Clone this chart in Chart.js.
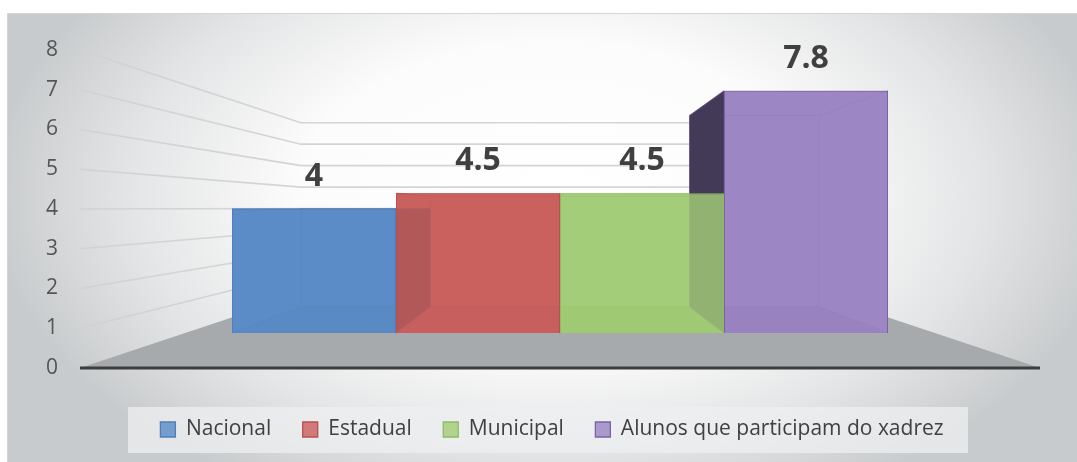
<!DOCTYPE html>
<html><head><meta charset="utf-8">
<script src="https://cdn.jsdelivr.net/npm/chart.js@4/dist/chart.umd.min.js"></script>
<style>html,body{margin:0;padding:0;background:#fff;overflow:hidden}</style>
</head><body>
<canvas id="c" width="1077" height="462"></canvas>
<script>
// ---- data ----
const categories = [''];
const seriesNames = ['Nacional', 'Estadual', 'Municipal', 'Alunos que participam do xadrez'];
const nacional = [4];
const estadual = [4.5];
const municipal = [4.5];
const alunosXadrez = [7.8];
const valueLabels = ['4', '4.5', '4.5', '7.8'];
const yTicks = [0, 1, 2, 3, 4, 5, 6, 7, 8];

// ---- styles ----
const styles = [
  {rgb:[91,140,199], bottom:'#4f7fb8', side:'#4a3040', edge:'rgba(55,95,155,0.55)', border:'#4f7fbb'},
  {rgb:[202,98,95], bottom:'#b35452', side:'#8a3b39', edge:'rgba(150,55,52,0.55)', border:'#b9504e'},
  {rgb:[163,205,120], bottom:'#8fb865', side:'#6c8e47', edge:'rgba(105,145,65,0.55)', border:'#8ebb62'},
  {rgb:[156,134,195], bottom:'#8670ad', side:'#433a58', edge:'rgba(105,80,145,0.55)', border:'#7a63a6'}
];
const rgba = (c, a) => `rgba(${c[0]},${c[1]},${c[2]},${a})`;
const SF = 0.781, SB = 0.617, SW = 0.54;

function geom(chart) {
  const a = chart.chartArea;
  const vx = (a.left + a.right) / 2;
  const vy = a.bottom - 0.503 * (a.bottom - a.top);
  const P = (x, y, s) => [vx + s * (x - vx), vy + s * (y - vy)];
  return {a, vx, vy, P};
}
function poly(ctx, pts, fill, stroke) {
  ctx.beginPath();
  ctx.moveTo(pts[0][0], pts[0][1]);
  for (let k = 1; k < pts.length; k++) ctx.lineTo(pts[k][0], pts[k][1]);
  ctx.closePath();
  if (fill) { ctx.fillStyle = fill; ctx.fill(); }
  if (stroke) { ctx.strokeStyle = stroke; ctx.stroke(); }
}

const plugin3d = {
  id: 'plugin3d',
  beforeDraw(chart) {
    const ctx = chart.ctx, W = chart.width, H = chart.height;
    ctx.save();
    ctx.fillStyle = '#ffffff';
    ctx.fillRect(0, 0, W, H);
    ctx.save();
    ctx.beginPath(); ctx.rect(7, 13, W - 7, H - 13); ctx.clip();
    ctx.translate(555, 195); ctx.scale(1, 0.6);
    const g = ctx.createRadialGradient(0, 0, 0, 0, 0, 565);
    g.addColorStop(0, '#ffffff');
    g.addColorStop(0.45, '#fcfcfc');
    g.addColorStop(0.75, '#e4e5e6');
    g.addColorStop(1, '#c8cbcd');
    ctx.fillStyle = g;
    ctx.fillRect(-900, -900, 1800, 1800);
    ctx.restore();
    ctx.strokeStyle = '#d4d4d4'; ctx.lineWidth = 1;
    ctx.strokeRect(7.5, 13.5, W, H);
    // legend panel
    ctx.fillStyle = 'rgba(238,239,240,0.75)';
    ctx.fillRect(128, 407, 840, 46);
    ctx.restore();
  },
  beforeDatasetsDraw(chart) {
    const ctx = chart.ctx;
    const {a, vx, vy, P} = geom(chart);
    const ys = chart.scales.y;
    ctx.save();
    // wall gridlines
    ctx.strokeStyle = 'rgba(208,210,212,0.95)'; ctx.lineWidth = 1.6;
    yTicks.forEach(v => {
      if (v === 0) return;
      const yf = ys.getPixelForValue(v);
      const b1 = P(a.left, yf, SW), b2 = P(a.right, yf, SW);
      ctx.beginPath(); ctx.moveTo(a.left, yf); ctx.lineTo(b1[0], b1[1]); ctx.lineTo(b2[0], b2[1]); ctx.stroke();
    });
    // floor
    const y0 = ys.getPixelForValue(0);
    const f1 = P(a.left, y0, SW), f2 = P(a.right, y0, SW);
    poly(ctx, [[a.left, y0], [a.right, y0], f2, f1], '#a7aaac');
    ctx.strokeStyle = '#3d3d3d'; ctx.lineWidth = 3.2;
    ctx.beginPath(); ctx.moveTo(a.left, y0); ctx.lineTo(a.right, y0); ctx.stroke();

    const boxes = chart.data.datasets.map((ds, i) => {
      const el = chart.getDatasetMeta(i).data[0];
      return {i, l: el.x - el.width / 2, r: el.x + el.width / 2, t: el.y, b: el.base, cx: el.x};
    });
    // underlay of front faces
    boxes.forEach(bx => {
      const st = styles[bx.i];
      const p1 = P(bx.l, bx.t, SF), p2 = P(bx.r, bx.b, SF);
      ctx.fillStyle = rgba(st.rgb, 1);
      ctx.fillRect(p1[0], p1[1], p2[0] - p1[0], p2[1] - p1[1]);
    });
    // back + bottom faces
    ctx.lineWidth = 1;
    boxes.forEach(bx => {
      const st = styles[bx.i];
      const bl = P(bx.l, bx.t, SB), br = P(bx.r, bx.b, SB);
      const fl = P(bx.l, bx.b, SF), fr = P(bx.r, bx.b, SF);
      const ftl = P(bx.l, bx.t, SF), ftr = P(bx.r, bx.t, SF);
      ctx.fillStyle = rgba(st.rgb, 1);
      ctx.fillRect(bl[0], bl[1], br[0] - bl[0], br[1] - bl[1]);
      poly(ctx, [fl, fr, [br[0], br[1]], [bl[0], br[1]]], st.bottom);
      ctx.strokeStyle = st.edge;
      ctx.strokeRect(bl[0], bl[1], br[0] - bl[0], br[1] - bl[1]);
      ctx.beginPath();
      ctx.moveTo(fl[0], fl[1]); ctx.lineTo(bl[0], br[1]);
      ctx.moveTo(fr[0], fr[1]); ctx.lineTo(br[0], br[1]);
      ctx.moveTo(ftl[0], ftl[1]); ctx.lineTo(bl[0], bl[1]);
      ctx.moveTo(ftr[0], ftr[1]); ctx.lineTo(br[0], bl[1]);
      ctx.stroke();
    });
    // side faces facing the viewer
    boxes.forEach(bx => {
      const st = styles[bx.i];
      const x = bx.cx < vx ? bx.r : bx.l;
      if (Math.abs(x - vx) < 1) return;
      poly(ctx, [P(x, bx.t, SF), P(x, bx.b, SF), P(x, bx.b, SB), P(x, bx.t, SB)], st.side, st.edge);
    });
    ctx.restore();
    // library draws the front faces in the front plane of the boxes
    ctx.save();
    ctx.translate(vx, vy); ctx.scale(SF, SF); ctx.translate(-vx, -vy);
  },
  afterDatasetsDraw(chart) {
    const ctx = chart.ctx;
    ctx.restore();
    const {P} = geom(chart);
    ctx.save();
    ctx.font = 'bold 32px "Open Sans"';
    ctx.fillStyle = '#404040';
    ctx.textAlign = 'center';
    ctx.textBaseline = 'alphabetic';
    chart.data.datasets.forEach((ds, i) => {
      const el = chart.getDatasetMeta(i).data[0];
      const p = P(el.x, el.y, SF);
      ctx.fillText(valueLabels[i], p[0], p[1] - 23);
    });
    ctx.restore();
  }
};

Chart.defaults.font.family = '"Open Sans", sans-serif';
const seriesValues = [nacional, estadual, municipal, alunosXadrez];
new Chart(document.getElementById('c'), {
  type: 'bar',
  data: {
    labels: categories,
    datasets: seriesNames.map((name, i) => ({
      label: name,
      data: seriesValues[i],
      backgroundColor: rgba(styles[i].rgb, 0.82),
      borderColor: styles[i].border,
      borderWidth: 1.3,
      categoryPercentage: 0.875,
      barPercentage: 1.0
    }))
  },
  options: {
    responsive: false,
    maintainAspectRatio: false,
    devicePixelRatio: 1,
    animation: false,
    events: [],
    layout: {padding: {left: 30, right: 3, top: 50, bottom: 12}},
    scales: {
      x: {
        display: true,
        grid: {display: false, drawTicks: false},
        border: {display: false},
        ticks: {display: false},
        afterFit: s => { s.height = 19.5; }
      },
      y: {
        min: 0, max: 8,
        afterBuildTicks: s => { s.ticks = yTicks.map(v => ({value: v})); },
        grid: {display: false, drawTicks: false},
        border: {display: false},
        ticks: {padding: 22, color: '#555555', font: {size: 21}},
        afterFit: s => { s.width = 50; }
      },
      yRight: {
        type: 'linear',
        position: 'right',
        display: true,
        grid: {display: false, drawTicks: false},
        border: {display: false},
        ticks: {display: false},
        afterFit: s => { s.width = 34; }
      }
    },
    plugins: {
      legend: {
        position: 'bottom',
        labels: {boxWidth: 15, boxHeight: 15, padding: 31.5, color: '#404040', font: {size: 21}}
      },
      tooltip: {enabled: false}
    }
  },
  plugins: [plugin3d]
});
</script>
</body></html>
